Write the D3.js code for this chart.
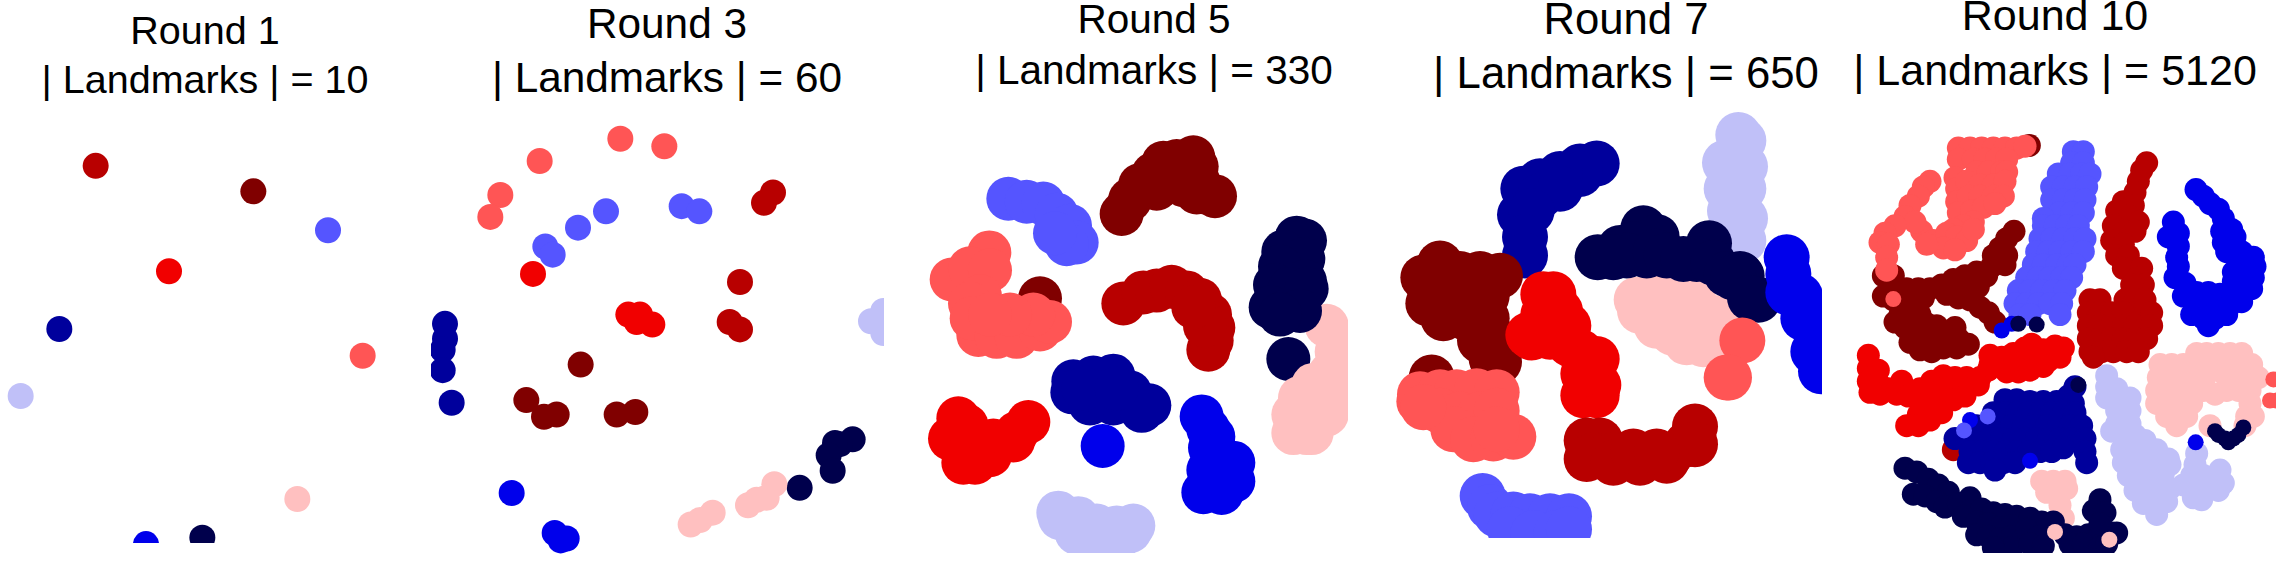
<!DOCTYPE html>
<html>
<head>
<meta charset="utf-8">
<script src="https://cdn.jsdelivr.net/npm/d3@7"></script>
<style>
    html, body { margin: 0; padding: 0; background: #fff; }
    svg { display: block; }
</style>
</head>
<body>
<script>
// seismic colormap sampled at ten classes
var classColors = ["rgb(0,0,76)", "rgb(0,0,156)", "rgb(0,0,235)", "rgb(85,85,255)", "rgb(192,192,248)",
                   "rgb(255,192,192)", "rgb(255,85,85)", "rgb(241,0,0)", "rgb(184,0,0)", "rgb(128,0,0)"];
var NAVY = 0, DARKBLUE = 1, BLUE = 2, PERI = 3, LAV = 4, PINK = 5, SALMON = 6, RED = 7, DARKRED = 8, MAROON = 9;

var roundNames = ["Round 1", "Round 3", "Round 5", "Round 7", "Round 10"];
var landmarkCounts = [10, 60, 330, 650, 5120];

// each layer is [class, [[x, y], ...]], in map units, drawn in this order
var round1 = [
    [DARKRED, [[287,448]]], [MAROON, [[760,517]]], [PERI, [[984,622]]], [RED, [[507,733]]],
    [DARKBLUE, [[178,889]]], [SALMON, [[1088,961]]], [LAV, [[62,1070]]], [PINK, [[892,1348]]],
    [BLUE, [[438,1470]]], [NAVY, [[607,1453]]]
];

var round3 = [
    [DARKBLUE, [[15,875],[15,915],[8,945],[8,1000],[35,1088]]],
    [SALMON, [[541,375],[673,395],[299,435],[181,527],[151,586]]],
    [PERI, [[498,571],[414,615],[316,666],[338,688],[725,557],[778,571]]],
    [DARKRED, [[999,520],[972,548],[900,762],[869,870],[900,890]]],
    [RED, [[279,740],[565,850],[600,850],[590,870],[637,877]]],
    [MAROON, [[422,985],[259,1081],[312,1126],[350,1120],[530,1120],[586,1113]]],
    [NAVY, [[1238,1187],[1200,1200],[1185,1197],[1166,1230],[1178,1272],[1079,1318]]],
    [PINK, [[1003,1308],[980,1345],[950,1350],[924,1365],[818,1385],[780,1405],[752,1417]]],
    [BLUE, [[215,1332],[344,1440],[380,1455],[362,1460]]],
    [LAV, [[1293,868],[1330,840],[1330,900]]]
];

var round5 = [
    [MAROON, [[665,578],[690,540],[720,500],[760,470],[790,440],[830,435],[880,425],[890,450],[895,490],[915,520],[945,530],[890,520],[850,500],[820,470],[770,510],[420,806]]],
    [PERI, [[325,537],[380,545],[430,550],[470,580],[510,610],[530,655],[500,660],[465,630]]],
    [SALMON, [[268,682],[155,755],[210,725],[270,730],[240,800],[210,820],[235,905],[215,860],[290,910],[350,910],[420,890],[450,870],[400,850],[330,850],[270,850]]],
    [DARKRED, [[670,820],[730,790],[770,785],[815,775],[860,790],[900,810],[930,850],[940,885],[925,945],[935,920],[915,880],[880,830]]],
    [PINK, [[1280,880]]],
    [NAVY, [[1190,642],[1215,650],[1150,680],[1210,700],[1140,720],[1215,760],[1125,770],[1170,780],[1220,780],[1112,830],[1160,840],[1200,840],[1140,850],[1165,970]]],
    [PINK, [[1330,930],[1310,950],[1340,1000],[1290,1010],[1240,1040],[1340,1060],[1290,1070],[1240,1100],[1280,1120],[1180,1170],[1220,1170],[1180,1120],[1235,1170],[1200,1075]]],
    [RED, [[175,1130],[150,1185],[200,1150],[225,1250],[190,1250],[230,1190],[280,1190],[320,1190],[385,1140],[350,1170],[270,1230],[340,1190]]],
    [DARKBLUE, [[520,1030],[580,1020],[640,1015],[690,1060],[517,1060],[570,1090],[640,1090],[680,1080],[748,1095],[725,1110],[600,1060],[550,1050],[650,1050]]],
    [BLUE, [[608,1205],[905,1125],[925,1160],[940,1180],[930,1210],[955,1230],[1000,1250],[925,1270],[910,1330],[965,1332],[1000,1300],[950,1280]]],
    [LAV, [[475,1385],[480,1400],[535,1400],[590,1420],[650,1425],[700,1420],[530,1440],[600,1445],[690,1435],[650,1460],[580,1470]]]
];

var round7 = [
    [LAV, [[1075,365],[1090,380],[1070,420],[1035,440],[1095,450],[1065,480],[1040,510],[1090,510],[1050,570],[1095,590],[1060,640],[1090,650]]],
    [DARKBLUE, [[650,442],[600,450],[600,470],[540,470],[480,490],[430,510],[480,530],[540,510],[420,580],[455,570],[435,640],[435,690]]],
    [PINK, [[770,810],[830,800],[890,800],[940,810],[780,840],[830,880],[880,900],[920,925],[970,930],[1025,930],[1010,860],[950,870],[880,850],[1030,860],[1060,920]]],
    [NAVY, [[790,617],[653,695],[720,670],[830,640],[760,660],[800,690],[740,690],[700,695],[827,680],[860,690],[987,657],[950,700],[910,700],[1000,710],[1040,740],[1080,740],[1085,745],[1060,750],[1135,810],[1110,805]]],
    [SALMON, [[1087,920],[1040,1020],[1047,1020]]],
    [BLUE, [[1220,695],[1225,740],[1225,790],[1260,800],[1270,860],[1300,950],[1323,1003],[1330,850],[1330,900],[1330,950],[1330,1000]]],
    [MAROON, [[180,712],[130,750],[145,820],[200,760],[240,740],[300,740],[360,745],[200,820],[260,800],[320,800],[190,860],[260,860],[320,860],[300,920],[350,920],[357,978],[335,970],[155,1020]]],
    [SALMON, [[118,1085],[120,1065],[180,1060],[230,1060],[290,1057],[350,1060],[180,1110],[240,1120],[300,1120],[350,1110],[220,1160],[280,1187],[340,1185],[400,1180],[350,1160],[130,1100]]],
    [RED, [[490,795],[520,795],[540,840],[490,850],[445,905],[510,910],[565,880],[570,930],[600,950],[650,970],[655,1040],[610,1068],[650,1068],[610,1010],[455,912]]],
    [DARKRED, [[620,1190],[660,1190],[640,1230],[700,1230],[760,1240],[820,1235],[870,1230],[920,1200],[945,1152],[945,1200],[620,1240],[700,1250],[780,1250],[860,1245],[760,1220],[830,1220]]],
    [PERI, [[308,1340],[330,1370],[350,1390],[400,1390],[450,1395],[510,1395],[567,1395],[390,1430],[460,1440],[530,1440],[567,1430]]]
];

var round10 = [
    [MAROON, [[598,393],[552,625],[530,645],[510,670],[530,690],[490,690],[525,715],[485,720],[470,745],[440,735],[405,745],[445,775],[400,775],[370,755],[335,770],[300,780],[265,780],[230,780],[195,770],[160,745],[190,745],[160,800],[190,810],[220,815],[250,820],[280,805],[210,850],[240,850],[270,850],[195,870],[225,885],[255,885],[290,875],[320,880],[375,885],[345,905],[385,915],[415,930],[380,940],[340,940],[305,950],[270,945],[240,925],[275,915],[310,915],[350,795],[385,805],[420,810],[450,830],[475,845],[495,870],[380,775],[345,775]]],
    [SALMON, [[385,400],[420,400],[455,400],[490,400],[525,400],[560,400],[585,395],[385,430],[430,430],[465,430],[500,430],[530,430],[440,465],[475,465],[515,465],[530,465],[375,480],[380,510],[410,490],[450,500],[490,500],[525,490],[380,545],[415,530],[450,530],[490,530],[520,530],[385,575],[425,570],[460,560],[495,550],[430,600],[400,610],[370,620],[275,625],[310,650],[350,630],[380,640],[410,650],[340,670],[290,660],[375,675],[430,620],[300,490],[280,505],[265,530],[240,555],[225,585],[255,600],[195,610],[165,630],[150,655],[175,660],[170,695],[170,730]]],
    [PERI, [[730,410],[760,410],[725,440],[760,440],[685,470],[720,470],[755,470],[780,470],[665,505],[700,505],[735,505],[770,505],[665,540],[700,540],[735,540],[765,540],[690,575],[725,575],[760,575],[640,590],[640,610],[675,610],[710,610],[745,610],[630,645],[665,645],[700,645],[735,645],[765,645],[620,680],[655,680],[690,680],[725,680],[760,680],[610,715],[640,715],[680,715],[715,715],[735,715],[590,750],[625,750],[660,750],[695,750],[725,750],[565,785],[600,785],[635,785],[670,785],[705,785],[555,820],[590,820],[625,820],[660,820],[695,820],[570,850],[600,850],[690,850]]],
    [DARKRED, [[950,440],[935,460],[925,490],[915,520],[880,545],[910,555],[860,570],[900,585],[925,600],[850,610],[885,625],[915,625],[845,650],[880,660],[860,690],[895,690],[880,725],[935,725],[925,750],[940,770],[905,770],[780,810],[810,810],[885,810],[915,810],[945,810],[775,845],[810,845],[845,845],[880,845],[945,845],[965,845],[775,880],[810,880],[845,880],[880,880],[915,880],[950,880],[965,880],[775,915],[810,915],[845,915],[880,915],[915,915],[950,915],[780,950],[815,950],[850,950],[890,950],[925,950],[790,965],[370,1215]]],
    [BLUE, [[1098,512],[1120,530],[1140,550],[1165,565],[1180,590],[1205,620],[1175,625],[1215,640],[1180,655],[1190,680],[1235,680],[1270,695],[1240,715],[1275,720],[1210,735],[1270,750],[1235,750],[1210,760],[1265,780],[1230,790],[1200,790],[1030,600],[1015,640],[1045,630],[1045,665],[1040,695],[1045,720],[1035,750],[1065,765],[1100,790],[1135,790],[1170,795],[1060,800],[1095,825],[1130,825],[1165,825],[1200,825],[1235,815],[1085,850],[1120,860],[1155,860],[1135,880],[1190,850]]],
    [RED, [[115,960],[115,995],[145,1000],[115,1030],[145,1035],[175,1050],[120,1060],[150,1065],[215,1030],[200,1065],[235,1070],[270,1050],[305,1030],[340,1015],[375,1020],[410,1020],[450,1020],[475,1000],[270,1085],[305,1070],[340,1050],[375,1050],[410,1050],[445,1040],[265,1120],[300,1105],[335,1085],[370,1080],[405,1070],[230,1150],[265,1150],[300,1135],[335,1115],[480,960],[515,965],[550,955],[585,940],[605,930],[640,945],[675,935],[700,940],[480,985],[515,990],[550,990],[585,975],[620,975],[655,975],[690,965],[530,1005],[565,1005],[600,1000],[640,990]]],
    [DARKBLUE, [[525,1080],[560,1080],[600,1085],[640,1085],[680,1085],[715,1070],[735,1045],[730,1090],[490,1115],[525,1115],[560,1115],[595,1115],[630,1115],[665,1115],[700,1115],[735,1115],[440,1150],[475,1150],[510,1150],[545,1150],[580,1150],[615,1150],[650,1150],[685,1150],[720,1150],[755,1150],[375,1185],[410,1185],[445,1185],[480,1185],[515,1185],[550,1185],[585,1185],[620,1185],[655,1185],[690,1185],[725,1185],[765,1185],[420,1220],[455,1220],[490,1220],[525,1220],[560,1220],[595,1220],[630,1220],[665,1220],[700,1210],[765,1220],[415,1250],[450,1250],[485,1250],[520,1250],[555,1250],[770,1250],[495,1270]]],
    [LAV, [[830,1015],[830,1045],[860,1050],[830,1075],[900,1075],[865,1080],[860,1110],[900,1110],[860,1145],[900,1145],[845,1165],[880,1180],[915,1175],[945,1190],[875,1215],[910,1215],[945,1220],[980,1215],[1015,1240],[880,1250],[915,1250],[950,1255],[985,1250],[1020,1255],[895,1285],[930,1290],[965,1290],[1000,1280],[915,1325],[950,1325],[985,1320],[1020,1320],[940,1360],[975,1360],[1010,1355],[980,1390],[1100,1225],[1095,1255],[1085,1285],[1120,1285],[1170,1270],[1150,1290],[1180,1305],[1060,1310],[1095,1320],[1130,1320],[1165,1325],[1115,1350],[1090,1345]]],
    [PINK, [[1100,955],[1130,955],[1165,955],[1200,955],[1235,955],[990,985],[1025,985],[1060,985],[1095,985],[1130,985],[1165,985],[1200,985],[1235,985],[1265,985],[985,1020],[1020,1020],[1055,1020],[1090,1020],[1125,1020],[1190,1020],[1225,1020],[1260,1020],[1285,1020],[980,1055],[1015,1055],[1050,1055],[1085,1055],[1120,1055],[1155,1065],[1190,1055],[1225,1055],[1260,1055],[980,1090],[1015,1090],[1050,1090],[1085,1090],[1260,1090],[1010,1125],[1045,1125],[1070,1125],[1250,1125],[1270,1125],[1040,1150],[1245,1150],[1140,1150],[635,1300],[670,1300],[705,1300],[650,1330],[685,1330],[710,1320],[690,1365],[700,1400]]],
    [NAVY, [[225,1265],[260,1275],[295,1295],[325,1310],[355,1330],[250,1335],[285,1340],[320,1355],[345,1370],[420,1345],[385,1360],[420,1380],[455,1375],[490,1385],[525,1390],[560,1395],[400,1395],[440,1410],[475,1415],[510,1425],[545,1420],[600,1400],[635,1410],[670,1410],[440,1445],[475,1450],[510,1455],[545,1450],[510,1480],[545,1480],[490,1480],[590,1430],[625,1450],[600,1470],[640,1475],[705,1445],[740,1450],[775,1445],[810,1445],[845,1440],[860,1440],[720,1470],[760,1470],[810,1480],[830,1470],[810,1350],[790,1380],[825,1385],[810,1415]]]
];

// single stray points that sit on top of the clouds, drawn smaller
var round10Strays = [
    [SALMON, [[190,808],[1330,1025],[1320,1082],[1340,1082]]],
    [BLUE, [[420,1135],[600,1245],[515,893],[545,875],[1097,1195]]],
    [PERI, [[473,1125],[402,1163]]],
    [NAVY, [[745,1040],[565,875],[620,877],[1155,1165],[1185,1185],[1240,1155],[1210,1185],[1165,1175],[1225,1175],[1195,1195]]],
    [PINK, [[675,1437],[838,1458]]]
];

var rounds = [round1, round3, round5, round7, round10];
var strays = [[], [], [], [], round10Strays];

function flatten(layers) {
    var points = [];
    layers.forEach(function(layer) {
        layer[1].forEach(function(p) {
            points.push({ cls: layer[0], x: p[0], y: p[1] });
        });
    });
    return points;
}

function main() {
    var width = 2276, height = 580;

    // left edge of each map's frame, and where the picture is cut off
    var offsets = [0, 440, 900, 1380, 1830];
    var domainWidths = [1380, 1380, 1380, 1380, 1338];
    var clips = [[0, 0, 430, 543], [431, 0, 453, 580], [918, 0, 430, 553], [1385, 0, 437, 538], [1850, 0, 426, 553]];
    var radii = [13, 13, 22, 23, 11.5];
    var strayRadius = 8;

    var titleX = [205, 667, 1154, 1626, 2055];
    var titleY1 = [43.5, 38, 33, 34, 30];
    var titleY2 = [92.5, 92, 84, 88, 84.5];
    var titleSize = [39.5, 42.3, 40.5, 43.7, 43];

    var svg = d3.select("body").append("svg")
        .attr("width", width).attr("height", height);

    var color = d3.scaleOrdinal().domain(d3.range(10)).range(classColors);
    var y = d3.scaleLinear().domain([0, 1567]).range([0, height]);

    rounds.forEach(function(layers, i) {
        var x = d3.scaleLinear()
            .domain([0, domainWidths[i]])
            .range([offsets[i], offsets[i] + domainWidths[i] / 3]);

        svg.append("clipPath").attr("id", "clip" + i)
            .append("rect")
            .attr("x", clips[i][0]).attr("y", clips[i][1])
            .attr("width", clips[i][2]).attr("height", clips[i][3]);

        var g = svg.append("g").attr("clip-path", "url(#clip" + i + ")");

        g.selectAll("circle.cloud")
            .data(flatten(layers))
            .enter()
            .append("circle")
            .attr("class", "cloud")
            .attr("cx", function(d) { return x(d.x); })
            .attr("cy", function(d) { return y(d.y); })
            .attr("r", radii[i])
            .attr("fill", function(d) { return color(d.cls); });

        g.selectAll("circle.stray")
            .data(flatten(strays[i]))
            .enter()
            .append("circle")
            .attr("class", "stray")
            .attr("cx", function(d) { return x(d.x); })
            .attr("cy", function(d) { return y(d.y); })
            .attr("r", strayRadius)
            .attr("fill", function(d) { return color(d.cls); });

        var title = svg.append("text")
            .attr("text-anchor", "middle")
            .attr("font-family", "Liberation Sans, Arial, sans-serif")
            .attr("font-size", titleSize[i] + "px")
            .attr("fill", "#000");
        title.append("tspan").attr("x", titleX[i]).attr("y", titleY1[i]).text(roundNames[i]);
        title.append("tspan").attr("x", titleX[i]).attr("y", titleY2[i]).text("| Landmarks | = " + landmarkCounts[i]);
    });
}

window.onload = main;
</script>
</body>
</html>
